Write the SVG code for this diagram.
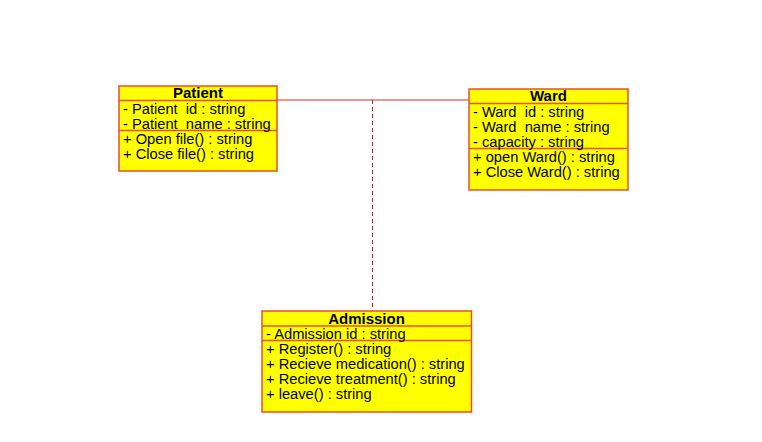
<svg xmlns="http://www.w3.org/2000/svg" width="762" height="442" viewBox="0 0 762 442">
<style>
.box{fill:#ffff00;stroke:#e8502a;stroke-width:1.5}
.sep{stroke:#e8502a;stroke-width:1.5}
text{font-family:"Liberation Sans",Arial,sans-serif;font-size:14.7px;fill:#000}
.t{font-weight:bold;text-anchor:middle;font-size:15px}
</style>
<rect width="762" height="442" fill="#fff"/>
<g id="connectors">
<line x1="277" y1="100" x2="469" y2="100" stroke="#e87070" stroke-width="1.5"/>
<line x1="372.5" y1="100" x2="372.5" y2="311" stroke="#c02020" stroke-width="1" stroke-dasharray="4,3"/>
</g>
<g id="patient">
<rect class="box" x="119" y="86" width="158" height="85"/>
<line class="sep" x1="119" y1="100.5" x2="277" y2="100.5"/>
<line class="sep" x1="119" y1="130.5" x2="277" y2="130.5"/>
<text class="t" x="198" y="98">Patient</text>
<text x="123" y="113.5" xml:space="preserve">- Patient  id : string</text>
<text x="123" y="128.5" xml:space="preserve">- Patient  name : string</text>
<text x="123" y="143.5">+ Open file() : string</text>
<text x="123" y="158.5">+ Close file() : string</text>
</g>
<g id="ward">
<rect class="box" x="469" y="89" width="159" height="101"/>
<line class="sep" x1="469" y1="103.5" x2="628" y2="103.5"/>
<line class="sep" x1="469" y1="148.5" x2="628" y2="148.5"/>
<text class="t" x="548.5" y="101">Ward</text>
<text x="473" y="117" xml:space="preserve">- Ward  id : string</text>
<text x="473" y="132" xml:space="preserve">- Ward  name : string</text>
<text x="473" y="147">- capacity : string</text>
<text x="473" y="162">+ open Ward() : string</text>
<text x="473" y="177">+ Close Ward() : string</text>
</g>
<g id="admission">
<rect class="box" x="262" y="311" width="209.5" height="101"/>
<line class="sep" x1="262" y1="326" x2="471.5" y2="326"/>
<line class="sep" x1="262" y1="340.5" x2="471.5" y2="340.5"/>
<text class="t" x="366.5" y="323.5">Admission</text>
<text x="266" y="338.5">- Admission id : string</text>
<text x="266" y="354">+ Register() : string</text>
<text x="266" y="369">+ Recieve medication() : string</text>
<text x="266" y="384">+ Recieve treatment() : string</text>
<text x="266" y="399">+ leave() : string</text>
</g>
</svg>
